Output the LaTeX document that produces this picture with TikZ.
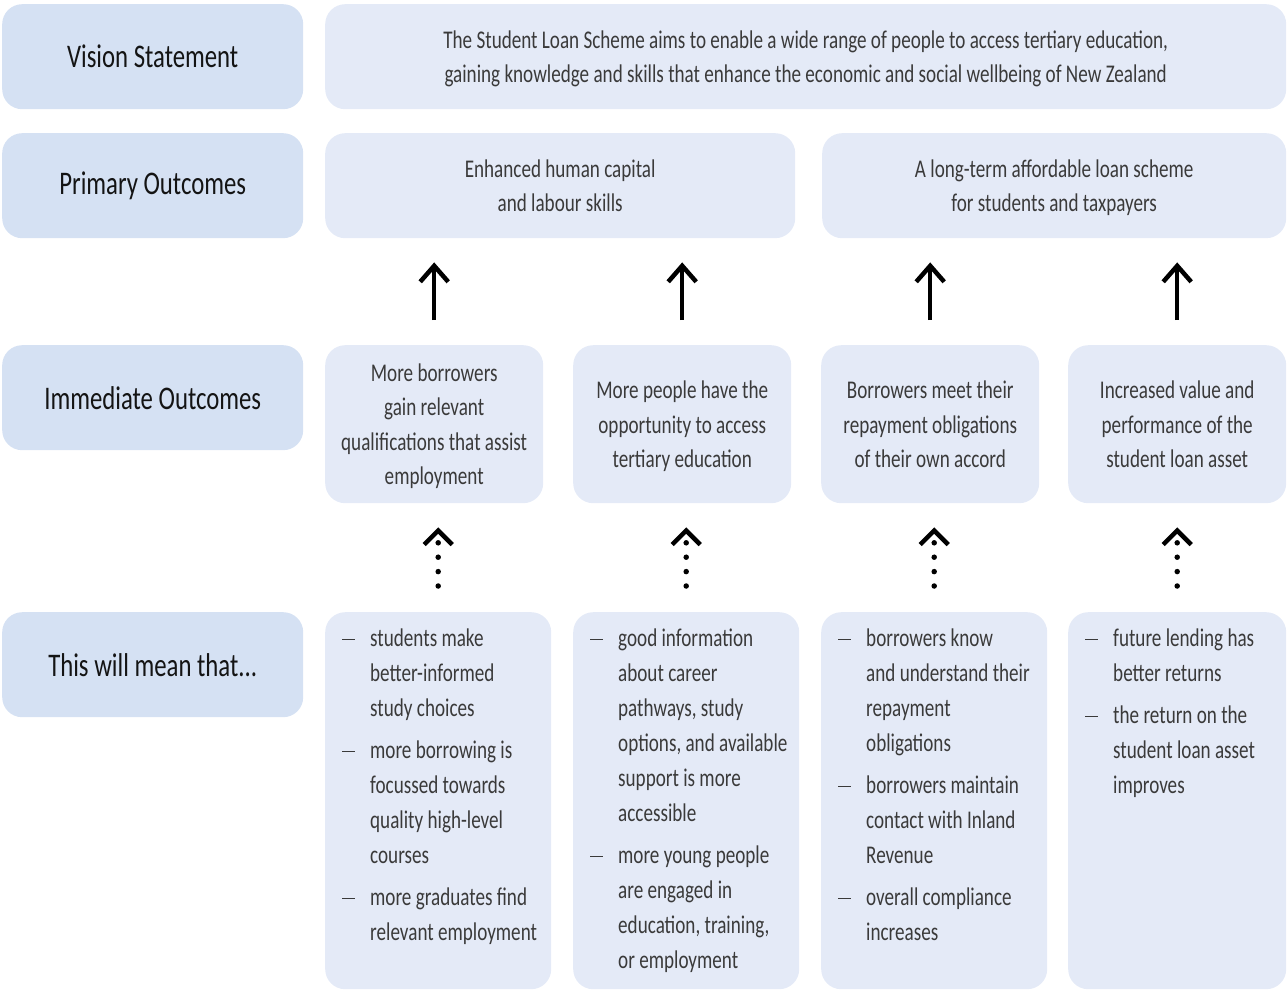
\documentclass[tikz,border=0pt]{standalone}
\usepackage{fontspec}
\setmainfont{Carlito}[FakeStretch=0.75]
\usetikzlibrary{arrows.meta}

\definecolor{labelblue}{HTML}{D5E1F3}
\definecolor{boxblue}{HTML}{E4EAF7}
\definecolor{inkgray}{HTML}{3A3A3A}

\newcommand{\dsh}{\makebox[28pt][l]{\rule[7pt]{13pt}{1.1pt}}}
\newcommand{\ind}{\hspace*{28pt}}

\tikzset{
  labelbox/.style={rectangle, rounded corners=20pt, fill=labelblue, anchor=north west,
    minimum width=301pt, minimum height=105pt, text=black!92,
    font=\fontsize{33}{36}\selectfont},
  contentbox/.style={rectangle, rounded corners=20pt, fill=boxblue, anchor=north west,
    align=center, inner sep=0pt, text depth=0pt, text=inkgray,
    font=\fontsize{25.5}{34.5}\selectfont},
  listtext/.style={anchor=north west, align=left, inner sep=0pt, text=inkgray,
    font=\fontsize{25.5}{35}\selectfont},
  solidarrow/.style={line width=4pt, shorten <=25pt, shorten >=24pt,
    -{Straight Barb[length=16pt,width=28pt,line width=4.5pt]}},
  dotarrow/.style={line width=5.5pt, line cap=round, dash pattern=on 0pt off 14.4pt,
    shorten <=26pt, shorten >=24pt,
    -{Straight Barb[length=14pt,width=28pt,line width=4.5pt]}}
}

\begin{document}
\begin{tikzpicture}[x=1pt,y=-1pt]
  \useasboundingbox (0,0) rectangle (1287,990);

  % row labels
  \node[labelbox] (lab1) at (2,4) {Vision Statement};
  \node[labelbox] (lab2) at (2,133) {Primary Outcomes};
  \node[labelbox] (lab3) at (2,345) {Immediate Outcomes};
  \node[labelbox] (lab4) at (2,612) {This will mean that...};

  % vision and primary outcomes
  \node[contentbox, minimum width=961pt, minimum height=105pt] (vis) at (325,4)
    {The Student Loan Scheme aims to enable a wide range of people to access tertiary education,\\
     gaining knowledge and skills that enhance the economic and social wellbeing of New Zealand};
  \node[contentbox, minimum width=470pt, minimum height=105pt] (prim1) at (325,133)
    {Enhanced human capital\\and labour skills};
  \node[contentbox, minimum width=464pt, minimum height=105pt] (prim2) at (822,133)
    {A long-term affordable loan scheme\\for students and taxpayers};

  % immediate outcomes
  \node[contentbox, minimum width=218pt, minimum height=158pt] (imm1) at (325,345)
    {More borrowers\\gain relevant\\qualifications that assist\\employment};
  \node[contentbox, minimum width=218pt, minimum height=158pt] (imm2) at (573,345)
    {More people have the\\opportunity to access\\tertiary education};
  \node[contentbox, minimum width=218pt, minimum height=158pt] (imm3) at (821,345)
    {Borrowers meet their\\repayment obligations\\of their own accord};
  \node[contentbox, minimum width=218pt, minimum height=158pt] (imm4) at (1068,345)
    {Increased value and\\performance of the\\student loan asset};

  % this will mean that
  \node[contentbox, minimum width=226pt, minimum height=377pt] (mean1) at (325,612) {};
  \node[contentbox, minimum width=226pt, minimum height=377pt] (mean2) at (573,612) {};
  \node[contentbox, minimum width=226pt, minimum height=377pt] (mean3) at (821,612) {};
  \node[contentbox, minimum width=218pt, minimum height=377pt] (mean4) at (1068,612) {};

  \node[listtext] (txt1) at ([shift={(17,17)}]mean1.north west)
    {\dsh students make\\ \ind better-informed\\ \ind study choices\\[7pt]
     \dsh more borrowing is\\ \ind focussed towards\\ \ind quality high-level\\ \ind courses\\[7pt]
     \dsh more graduates find\\ \ind relevant employment};
  \node[listtext] (txt2) at ([shift={(17,17)}]mean2.north west)
    {\dsh good information\\ \ind about career\\ \ind pathways, study\\ \ind options, and available\\ \ind support is more\\ \ind accessible\\[7pt]
     \dsh more young people\\ \ind are engaged in\\ \ind education, training,\\ \ind or employment};
  \node[listtext] (txt3) at ([shift={(17,17)}]mean3.north west)
    {\dsh borrowers know\\ \ind and understand their\\ \ind repayment\\ \ind obligations\\[7pt]
     \dsh borrowers maintain\\ \ind contact with Inland\\ \ind Revenue\\[7pt]
     \dsh overall compliance\\ \ind increases};
  \node[listtext] (txt4) at ([shift={(17,17)}]mean4.north west)
    {\dsh future lending has\\ \ind better returns\\[7pt]
     \dsh the return on the\\ \ind student loan asset\\ \ind improves};

  % arrows
  \foreach \i/\p in {1/prim1,2/prim1,3/prim2,4/prim2}{
    \draw[solidarrow] (imm\i.north) -- (imm\i.north |- \p.south);
    \draw[dotarrow] (mean\i.north) -- (mean\i.north |- imm\i.south);
  }
\end{tikzpicture}
\end{document}
